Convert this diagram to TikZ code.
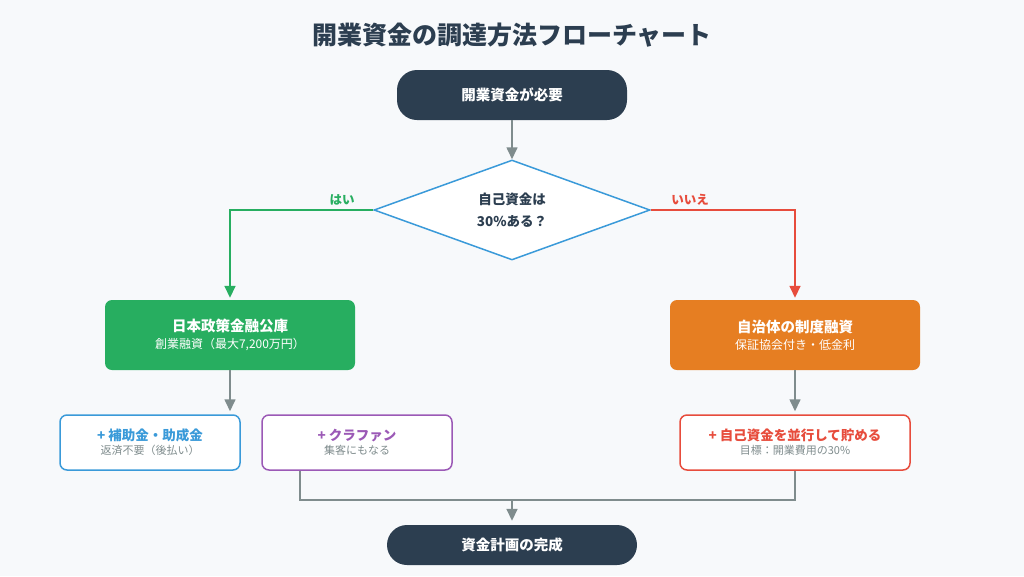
\documentclass[tikz,border=0pt]{standalone}
\usepackage{fontspec}
\setmainfont{Noto Sans CJK JP}
\usetikzlibrary{arrows.meta,shapes.geometric}
\definecolor{bg}{HTML}{F7F9FB}
\definecolor{dark}{HTML}{2C3E50}
\definecolor{cblue}{HTML}{3A9AD9}
\definecolor{cgreen}{HTML}{27AE60}
\definecolor{cred}{HTML}{E74C3C}
\definecolor{corange}{HTML}{E67E22}
\definecolor{cpurple}{HTML}{9B59B6}
\definecolor{cgray}{HTML}{7F8C8D}
\definecolor{tgray}{HTML}{7F8C8D}
\begin{document}
\begin{tikzpicture}[x=1pt,y=-1pt,
  pill/.style={fill=dark,rounded corners=20pt,minimum width=#1,text=white,font=\bfseries\fontsize{14.5}{16}\selectfont},
  solid box/.style={fill=#1,draw=none,rounded corners=7pt,minimum width=250pt,minimum height=70pt,text=white,align=center},
  out box/.style={draw=#1,line width=1.5pt,fill=white,rounded corners=7pt,minimum height=55pt,align=center},
  flow/.style={draw=cgray,line width=1.6pt,-{Triangle[length=12pt,width=11pt]}},
  plain/.style={draw=cgray,line width=1.6pt},
  lab/.style={font=\bfseries\fontsize{12.5}{14}\selectfont}]
\useasboundingbox[fill=bg] (0,0) rectangle (1024,576);
\node[font=\bfseries\fontsize{25}{28}\selectfont,text=dark] (title) at (512,35) {開業資金の調達方法フローチャート};
\node[pill=230pt,minimum height=50pt] (start) at (512,95) {開業資金が必要};
\node[diamond,draw=cblue,line width=1.5pt,fill=white,minimum width=276pt,minimum height=100pt,inner sep=0pt,aspect=2.76,align=center,font=\bfseries\fontsize{13.5}{22}\selectfont,text=dark] (q) at (512,210) {自己資金は\\30\%ある？};
\node[solid box=cgreen] (jfc) at (230,335) {{\bfseries\fontsize{14.5}{17}\selectfont 日本政策金融公庫}\\[5pt]{\fontsize{12}{14}\selectfont 創業融資（最大7,200万円）}};
\node[solid box=corange] (loc) at (795,335) {{\bfseries\fontsize{14.5}{17}\selectfont 自治体の制度融資}\\[5pt]{\fontsize{12}{14}\selectfont 保証協会付き・低金利}};
\node[out box=cblue,minimum width=180pt] (sub) at (150,442.5) {{\bfseries\fontsize{13.5}{15}\selectfont\color{cblue}+ 補助金・助成金}\\[2pt]{\fontsize{11}{13}\selectfont\color{tgray}返済不要（後払い）}};
\node[out box=cpurple,minimum width=190pt] (cf) at (357,442.5) {{\bfseries\fontsize{13.5}{15}\selectfont\color{cpurple}+ クラファン}\\[2pt]{\fontsize{11}{13}\selectfont\color{tgray}集客にもなる}};
\node[out box=cred,minimum width=230pt] (save) at (795,442.5) {{\bfseries\fontsize{13.5}{15}\selectfont\color{cred}+ 自己資金を並行して貯める}\\[2pt]{\fontsize{11}{13}\selectfont\color{tgray}目標：開業費用の30\%}};
\node[pill=250pt,minimum height=40pt] (end) at (512,545) {資金計画の完成};
\coordinate (m1) at (300,500);
\coordinate (m2) at (795,500);
\coordinate (mm) at (512,500);
\draw[flow] (start) -- (q.north);
\draw[line width=1.6pt,draw=cgreen,-{Triangle[length=12pt,width=11pt]},shorten >=2pt] (q.west) -| (jfc.north);
\draw[line width=1.6pt,draw=cred,-{Triangle[length=12pt,width=11pt]},shorten >=2pt] (q.east) -| (loc.north);
\node[lab,text=cgreen] (yes) at (342,200) {はい};
\node[lab,text=cred] (no) at (690,200) {いいえ};
\draw[flow,shorten >=3pt] (jfc.south) -- (sub.north -| jfc.south);
\draw[flow,shorten >=3pt] (loc.south) -- (save.north);
\draw[plain] (cf.south -| m1) -- (m1) -- (m2) -- (save.south);
\draw[flow,shorten >=4pt] (mm) -- (end.north);
\end{tikzpicture}
\end{document}
